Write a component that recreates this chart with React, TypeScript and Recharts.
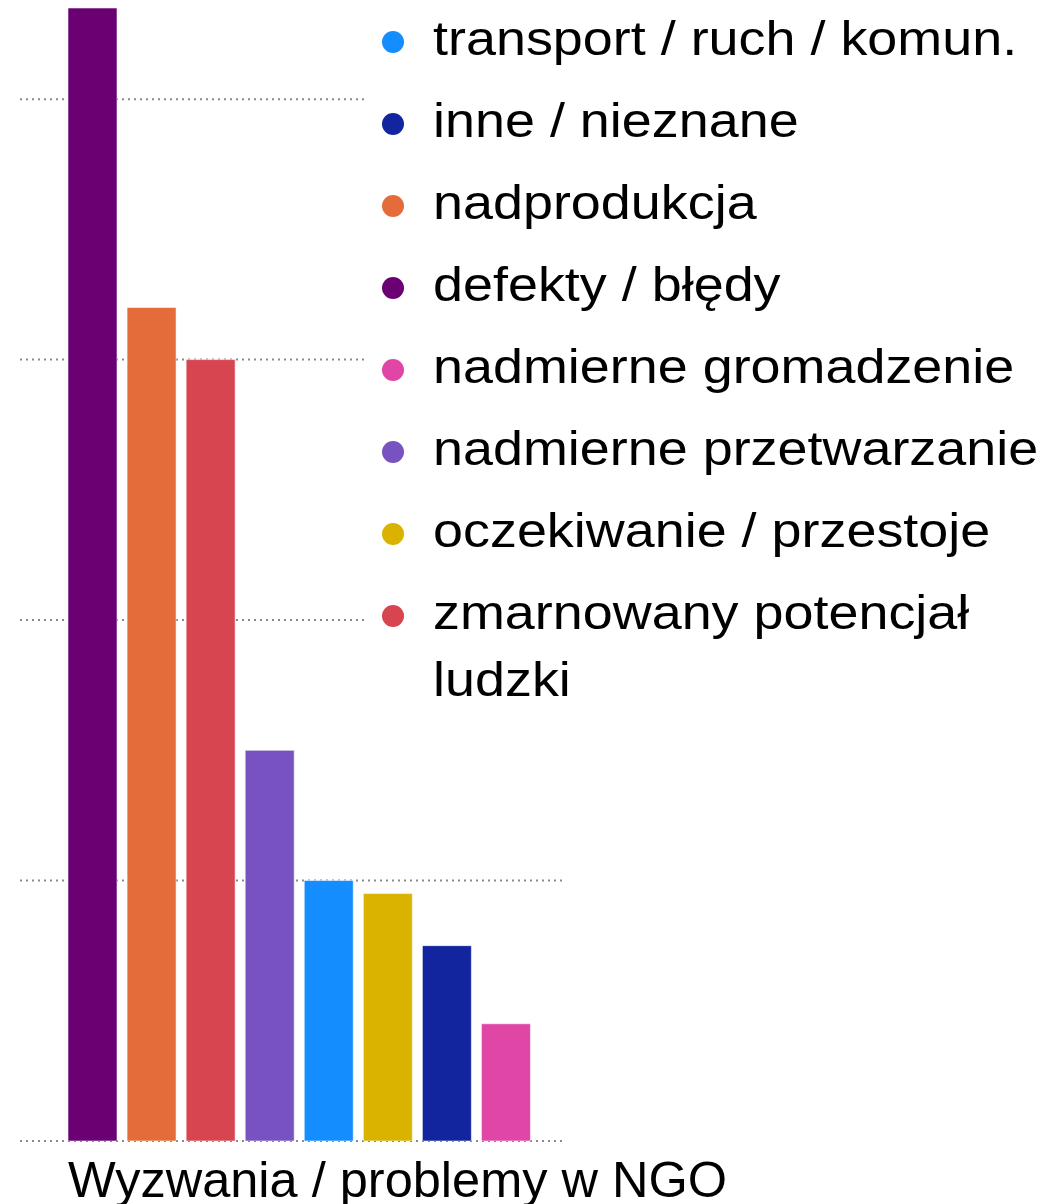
import React from 'react';
import { BarChart, Bar, XAxis, YAxis, CartesianGrid, Cell } from 'recharts';

const categories = [
  'defekty / błędy',
  'nadprodukcja',
  'zmarnowany potencjał ludzki',
  'nadmierne przetwarzanie',
  'transport / ruch / komun.',
  'oczekiwanie / przestoje',
  'inne / nieznane',
  'nadmierne gromadzenie',
];
const values = [43.5, 32, 30, 15, 10, 9.5, 7.5, 4.5];
const colors = ['#6B0073', '#E46C3A', '#D64550', '#7952C2', '#148EFF', '#D9B300', '#12259E', '#E046A6'];
const legendOrder = [
  'transport / ruch / komun.',
  'inne / nieznane',
  'nadprodukcja',
  'defekty / błędy',
  'nadmierne gromadzenie',
  'nadmierne przetwarzanie',
  'oczekiwanie / przestoje',
  'zmarnowany potencjał ludzki',
];
const yTicks = [0, 10, 20, 30, 40];
const yMax = 43.5;
const axisTitle = 'Wyzwania / problemy w NGO';

const data = categories.map((name, i) => ({ name, value: values[i], color: colors[i] }));

const FONT = '"Liberation Sans", Arial, sans-serif';

function gridRows(props: any): number[] {
  const s = props?.yAxis?.scale;
  try {
    if (typeof s === 'function') return yTicks.map((t) => s(t));
    if (s && typeof s.map === 'function') return yTicks.map((t) => s.map(t));
  } catch (e) {
    // fall through
  }
  const off = props?.offset || {};
  const top = off.top ?? 0;
  const h = off.height ?? 1133;
  return yTicks.map((t) => top + h * (1 - t / yMax));
}

export default function App() {
  return (
    <div style={{ position: 'relative', width: 1045, height: 1196, fontFamily: FONT }}>
      <BarChart
        width={1045}
        height={1196}
        data={data}
        margin={{ top: 0, right: 488, bottom: 0, left: 12 }}
        barSize={49}
      >
        <CartesianGrid
          vertical={false}
          stroke="#8a8a8a"
          strokeDasharray="2 4"
          strokeWidth={2}
          horizontalCoordinatesGenerator={gridRows}
        />
        <YAxis hide domain={[0, yMax]} ticks={yTicks} allowDataOverflow />
        <XAxis
          dataKey="name"
          height={63}
          tick={false}
          tickLine={false}
          axisLine={false}
          padding={{ left: 43, right: 29.5 }}
          label={(props: any) => {
            const vb = props.viewBox || {};
            return (
              <text x={(vb.x ?? 20) + 48} y={(vb.y ?? 1133) + 56} fontSize={50.5} fontFamily={FONT} fill="#000">
                {axisTitle}
              </text>
            );
          }}
        />
        <Bar dataKey="value" isAnimationActive={false} stroke="rgba(255,255,255,0.55)" strokeWidth={1}>
          {data.map((d) => (
            <Cell key={d.name} fill={d.color} />
          ))}
        </Bar>
      </BarChart>
      <div
        style={{
          position: 'absolute',
          left: 360,
          top: -8,
          width: 685,
          height: 728,
          background: '#fff',
        }}
      >
        {legendOrder.map((name, i) => {
          const d = data.find((x) => x.name === name)!;
          const top = 4.5 + 82 * i;
          return (
            <div key={name} style={{ position: 'absolute', left: 0, top, width: 685 }}>
              <div
                style={{
                  position: 'absolute',
                  left: 14,
                  top: 26.5,
                  width: 22,
                  height: 22,
                  borderRadius: '50%',
                  background: d.color,
                }}
              />
              <div
                style={{
                  position: 'absolute',
                  left: 65,
                  top: 0,
                  width: 560,
                  fontSize: 49,
                  lineHeight: '67px',
                  color: '#000',
                  transform: 'scaleX(1.1)',
                  transformOrigin: 'left top',
                  whiteSpace: 'normal',
                }}
              >
                {name}
              </div>
            </div>
          );
        })}
      </div>
    </div>
  );
}
